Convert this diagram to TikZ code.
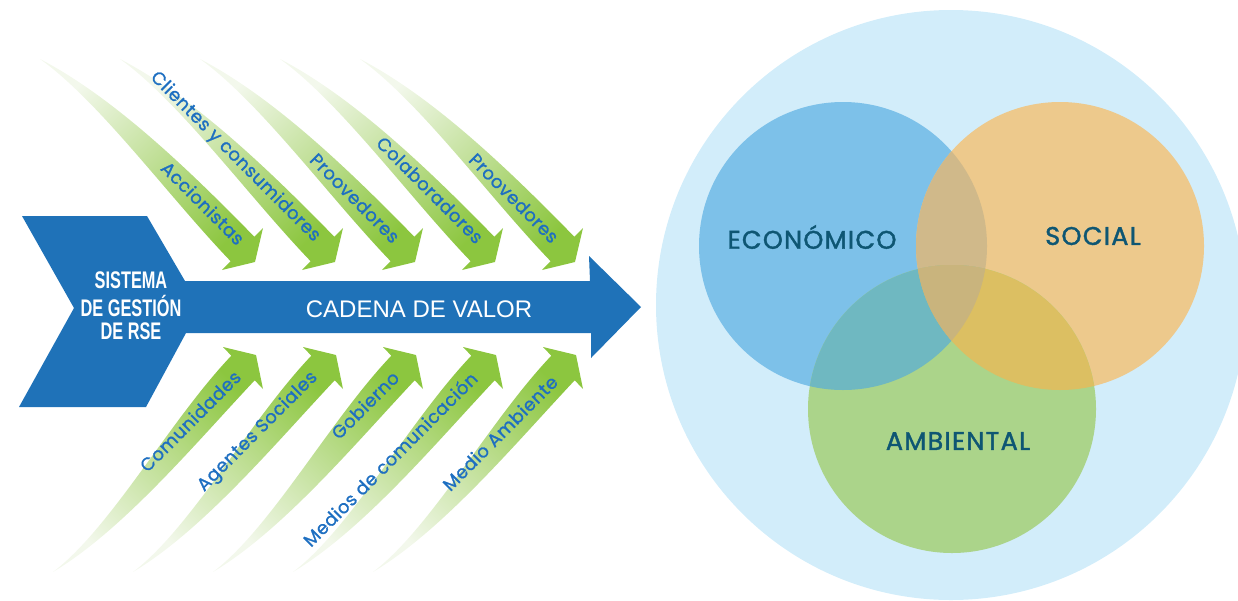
\documentclass[tikz,border=0pt]{standalone}
\usepackage{fontspec}
\setmainfont{Liberation Sans}
\newfontfamily\pop{Poppins}[LetterSpace=3, FakeBold=1.2]
\newfontfamily\popc{Poppins}[LetterSpace=5, FakeBold=1.6]
\definecolor{bluea}{HTML}{1F72B8}
\definecolor{gdark}{HTML}{8CC63F}
\definecolor{gmid}{HTML}{B6D98C}
\definecolor{glight}{HTML}{F3F8EC}
\definecolor{lblue}{HTML}{1E6FC1}
\definecolor{ctxt}{HTML}{0E5673}
\definecolor{bigc}{HTML}{D2EDFA}
\definecolor{cB}{HTML}{7DC1E9}
\definecolor{cO}{HTML}{EDC98C}
\definecolor{cG}{HTML}{ABD48A}
\definecolor{cBO}{HTML}{D0B98A}
\definecolor{cBG}{HTML}{6FB8C1}
\definecolor{cOG}{HTML}{DCBF62}
\definecolor{cBOG}{HTML}{C9B47D}
\tikzset{
  garrowtop/.style={top color=glight, middle color=gmid, bottom color=gdark, shading angle=45},
  garrowbot/.style={top color=gdark, middle color=gmid, bottom color=glight, shading angle=-45},
  lbl/.style={font=\pop\fontsize{18}{18}\selectfont, text=lblue, inner sep=0pt},
  ctext/.style={font=\popc\fontsize{25.5}{25.5}\selectfont, text=ctxt, inner sep=0pt},
}
\begin{document}
\begin{tikzpicture}[x=1pt,y=-1pt]
\useasboundingbox (0,0) rectangle (1238,600);
% ---- right: circles
\fill[bigc] (951,305) circle (295pt);
\coordinate (cb) at (843,246);
\coordinate (co) at (1060,246);
\coordinate (cg) at (952,409);
\fill[cB] (cb) circle (144pt);
\fill[cO] (co) circle (144pt);
\fill[cG] (cg) circle (144pt);
\begin{scope}\clip (cb) circle (144pt); \fill[cBO] (co) circle (144pt); \fill[cBG] (cg) circle (144pt);\end{scope}
\begin{scope}\clip (co) circle (144pt); \fill[cOG] (cg) circle (144pt);\end{scope}
\begin{scope}\clip (cb) circle (144pt); \clip (co) circle (144pt); \fill[cBOG] (cg) circle (144pt);\end{scope}
\node[ctext] (eco) at (812,237) {ECONÓMICO};
\node[ctext] (soc) at (1093,236) {SOCIAL};
\node[ctext] (amb) at (958,441) {AMBIENTAL};
% ---- blue arrow
\fill[bluea] (22,216) -- (147,216) -- (185,281) -- (590,281) -- (589,256) -- (641,307) -- (591,358) -- (591,333) -- (186,333) -- (146,407) -- (19,407) -- (74,308) -- cycle;
\node[font=\bfseries\fontsize{24}{21}\selectfont, text=white, inner sep=0pt] (sis) at (131,309)
  {\scalebox{0.68}[1]{\begin{tabular}{@{}c@{}}SISTEMA\\DE GESTIÓN\\DE RSE\end{tabular}}};
\node[font=\fontsize{24}{24}\selectfont, text=white, inner sep=0pt] (cad) at (419,309) {CADENA DE VALOR};
% ---- green arrows
\foreach \i in {0,...,4}{
  \shade[garrowtop, xshift=80*\i] (40,59) .. controls (115,98) and (191,172) .. (254.4,236.8) -- (263,228) -- (255,262) -- (222,270) -- (230.6,261.2) .. controls (168,196) and (100,102) .. (40,59) -- cycle;
  \shade[garrowbot, xshift=80*\i] (53,572) .. controls (123,530) and (194,445) .. (254.7,380.3) -- (263,389) -- (256,355) -- (223,347) -- (231.3,355.7) .. controls (170,420) and (111,528) .. (53,572) -- cycle;
}
\node[lbl, rotate=-45] (t1) at (203,203) {Accionistas};
\node[lbl, rotate=-45] (t2) at (235,157) {Clientes y consumidores};
\node[lbl, rotate=-45] (t3) at (355,198) {Proovedores};
\node[lbl, rotate=-45] (t4) at (430,190) {Colaboradores};
\node[lbl, rotate=-45] (t5) at (514,198) {Proovedores};
\node[lbl, rotate=45] (b1) at (190,421) {Comunidades};
\node[lbl, rotate=45] (b2) at (258,432) {Agentes Sociales};
\node[lbl, rotate=45] (b3) at (365,405) {Gobierno};
\node[lbl, rotate=45] (b4) at (390,459) {Medios de comunicación};
\node[lbl, rotate=45] (b5) at (500,433) {Medio Ambiente};
\end{tikzpicture}
\end{document}
